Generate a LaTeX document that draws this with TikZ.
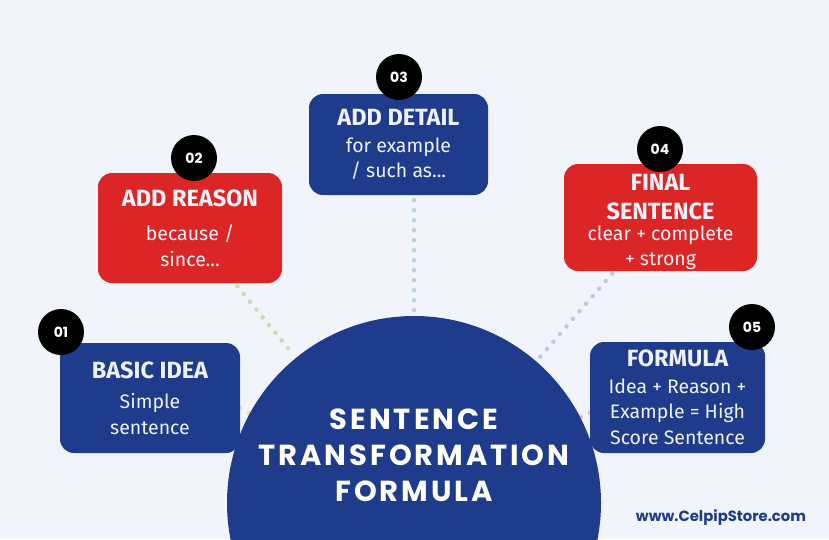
\documentclass[tikz,border=0pt]{standalone}
\usepackage{fontspec}
\setmainfont{Fira Sans}
\newfontfamily\headfont{Poppins}
\usetikzlibrary{positioning}
\usetikzlibrary{backgrounds}
\definecolor{Paper}{HTML}{F1F4FA}
\definecolor{Navy}{HTML}{1F3B8B}
\definecolor{Signal}{HTML}{DC2626}
\definecolor{Chalk}{HTML}{EEF1F8}
\definecolor{Sage}{HTML}{C6E0B4}
\definecolor{Mist}{HTML}{BCD0E2}
\definecolor{Lilac}{HTML}{CAC3E4}
\definecolor{Sand}{HTML}{F4DDA8}
\definecolor{Rose}{HTML}{EBBAC9}
\newcommand{\cardtitle}{\bfseries\fontsize{23.5}{25.5}\selectfont}
\tikzset{
  % rounded cards, one per step
  card/.style={
    fill=#1,rounded corners=14pt,text=Chalk,align=center,
    inner sep=0pt,font=\fontsize{19.5}{25.5}\selectfont,
  },
  bluecard/.style={card=Navy},
  redcard/.style={card=Signal},
  % black step numbers
  badge/.style={circle,fill=black,text=white,minimum size=46pt,inner sep=0pt,
    font=\headfont\bfseries\fontsize{14}{14}\selectfont},
  hub/.style={circle,fill=Navy,minimum size=374pt,inner sep=0pt},
  hubtitle/.style={text=white,align=center,inner sep=0pt,
    font=\headfont\bfseries\addfontfeature{LetterSpace=10}\fontsize{29}{36}\selectfont},
  % dotted spokes
  link/.style={draw=#1,line width=4.5pt,line cap=round,dash pattern=on 0pt off 10pt},
}
\begin{document}
\begin{tikzpicture}[x=1pt,y=-1pt]
  \useasboundingbox (0,0) rectangle (829,539);
  \node[hub] (hub) at (414,503) {};
  \node[hubtitle] (title) at (414,455) {SENTENCE\\TRANSFORMATION\\FORMULA};
  \node[bluecard,minimum width=180pt,minimum height=110pt] (box1) at (150,398)
    {{\cardtitle BASIC IDEA}\\[5pt] Simple\\ sentence};
  \node[redcard,minimum width=184pt,minimum height=110pt] (box2) at (190,228)
    {{\cardtitle ADD REASON}\\[9pt] because /\\ since...};
  \node[bluecard,minimum width=179pt,minimum height=101pt] (box3) at (398.5,144.5)
    {{\cardtitle ADD DETAIL}\\[1pt] for example\\ / such as...};
  \node[redcard,minimum width=193pt,minimum height=107pt] (box4) at (660.5,217.5)
    {\rule{0pt}{25pt}{\cardtitle FINAL}\\[4pt] {\cardtitle SENTENCE}\\[-5pt] clear + complete\\ + strong};
  \node[bluecard,minimum width=175pt,minimum height=111pt] (box5) at (677.5,397.5)
    {{\cardtitle FORMULA}\\[1pt] Idea + Reason +\\ Example = High\\ Score Sentence};
  \node[badge] (n1) at (61,332) {01};
  \node[badge] (n2) at (194,158) {02};
  \node[badge] (n3) at (399,77) {03};
  \node[badge] (n4) at (660,149) {04};
  \node[badge] (n5) at (752,327) {05};
  \node[text=Navy,font=\headfont\bfseries\fontsize{14.8}{17}\selectfont] (site) at (721,518)
    {www.CelpipStore.com};
  \begin{scope}[on background layer]
    \fill[Paper] (0,0) rectangle (829,539);
    \path[link=Sage,shorten <=4pt,shorten >=3pt] (box2) -- (hub);
    \path[link=Mist,shorten <=5pt,shorten >=4pt] (box3.south -| hub) -- (hub.north);
    \path[link=Lilac,shorten <=3pt,shorten >=3pt] (box4) -- (hub);
    \path[link=Sand] ([yshift=-10pt]box1.east) -- (hub);
    \path[link=Rose] ([yshift=-15pt]box5.west) -- (hub);
  \end{scope}
\end{tikzpicture}
\end{document}
